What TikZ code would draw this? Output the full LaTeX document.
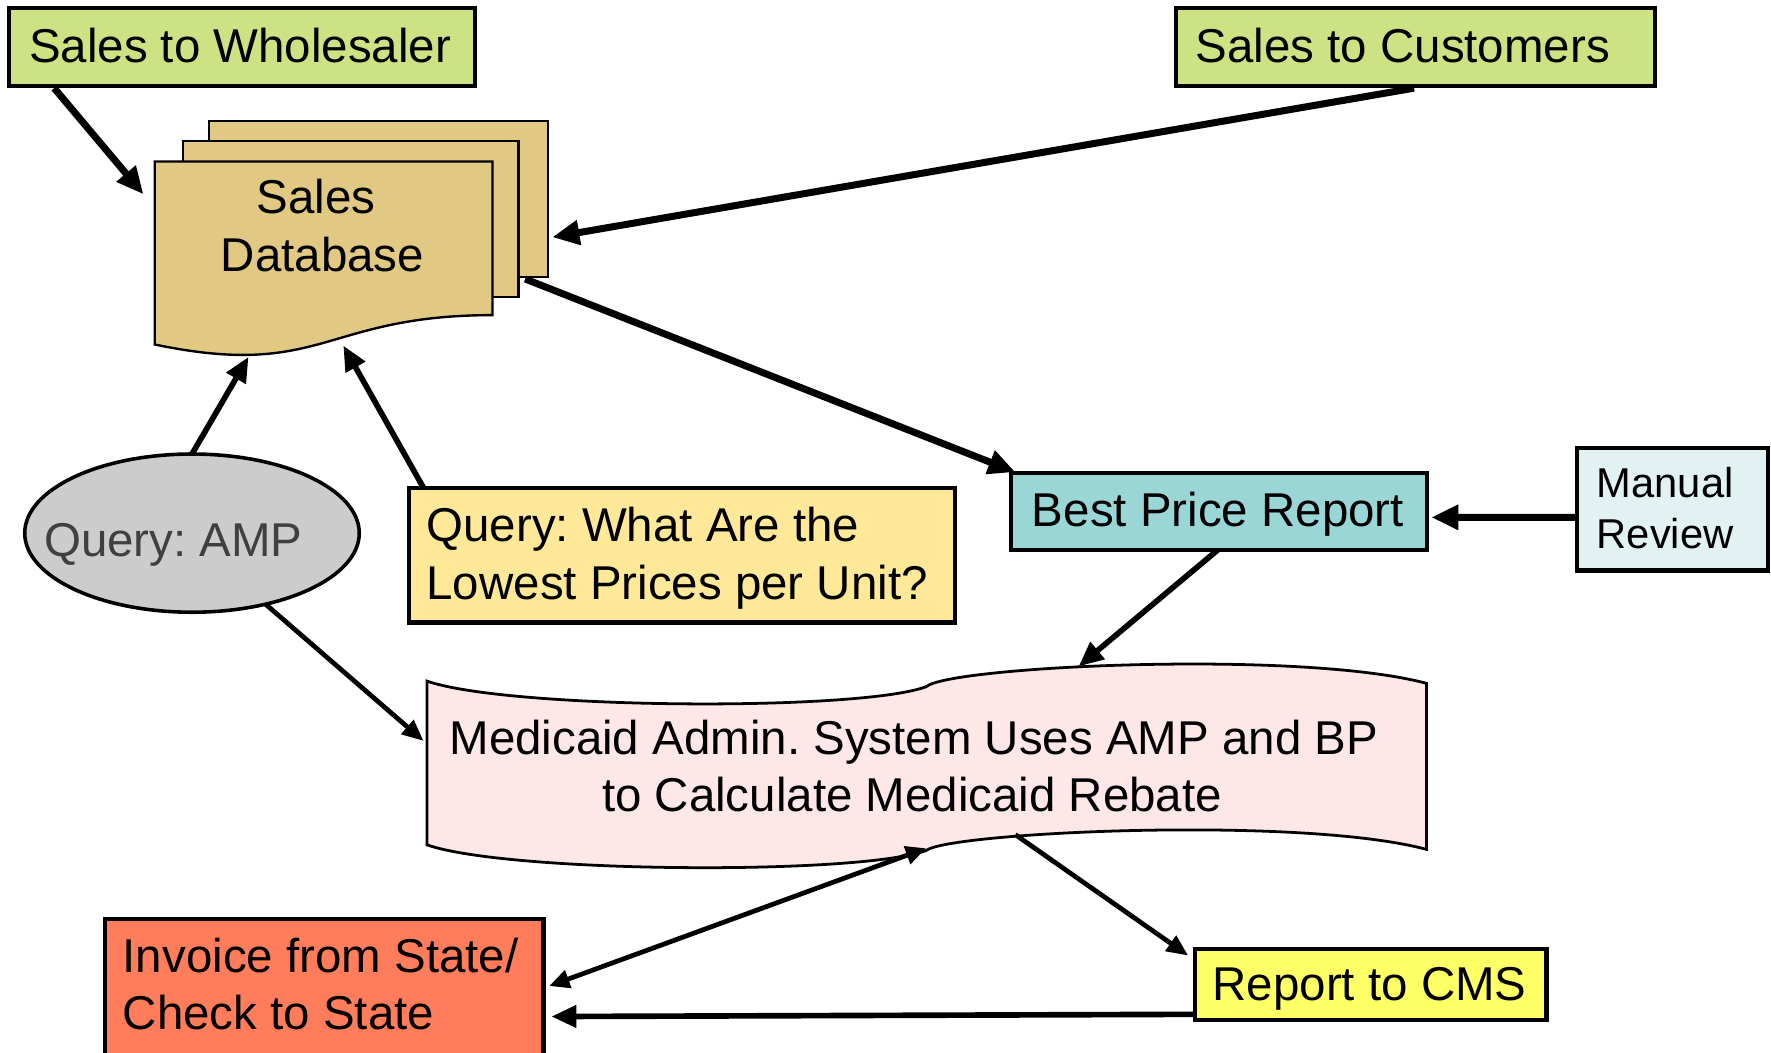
\documentclass[tikz,border=0pt]{standalone}
\usepackage{fontspec}
\setmainfont{Liberation Sans}
\usetikzlibrary{arrows.meta,calc,shapes.geometric}
\definecolor{cgreen}{RGB}{205,227,131}
\definecolor{ctan}{RGB}{225,200,131}
\definecolor{cgray}{RGB}{204,204,204}
\definecolor{cgtext}{RGB}{64,64,64}
\definecolor{cyellow}{RGB}{255,233,153}
\definecolor{cteal}{RGB}{155,214,214}
\definecolor{clight}{RGB}{226,242,242}
\definecolor{cpink}{RGB}{253,231,231}
\definecolor{corange}{RGB}{255,125,90}
\definecolor{ccms}{RGB}{255,255,102}
\frenchspacing
\begin{document}
\begin{tikzpicture}[x=0.01cm,y=-0.01cm,
  box/.style={draw=black,line width=1.05pt,rectangle,inner sep=0pt,outer sep=0pt,anchor=north west},
  lbl/.style={font=\fontsize{11.95}{14.8}\selectfont,inner sep=0pt,anchor=base west},
  lblc/.style={lbl,anchor=base},
  lbls/.style={font=\fontsize{10.5}{12.8}\selectfont,inner sep=0pt,anchor=base west},
  sheet/.style={draw=black,fill=ctan,line width=0.6pt},
  arT/.style={line width=0.062cm,-{Triangle[length=0.24cm,width=0.21cm]}},
  arM/.style={line width=0.05cm,-{Triangle[length=0.22cm,width=0.19cm]}},
  arS/.style={line width=0.042cm,-{Triangle[length=0.19cm,width=0.16cm]}},
  arD/.style={line width=0.042cm,{Triangle[length=0.18cm,width=0.16cm]}-{Triangle[length=0.18cm,width=0.16cm]}}]
\useasboundingbox (0,0) rectangle (1568,932);

% top boxes
\node[box,fill=cgreen,minimum width=4.12cm,minimum height=0.69cm] (sw) at (8,7) {};
\node[lbl] (swt) at (25,55) {Sales to Wholesaler};
\node[box,fill=cgreen,minimum width=4.24cm,minimum height=0.69cm] (sc) at (1041,7) {};
\node[lbl] (sct) at (1058,55) {Sales to Customers};

% sales database (multi-document)
\draw[sheet] (185,107) rectangle (485,245);
\draw[sheet] (162,125) rectangle (459,263);
\draw[sheet] (137,143) -- (436,143) -- (436,279) .. controls (286,279) and (286,336) .. (137,305) -- cycle;
\node[lblc] (dbt1) at (280,189) {Sales};
\node[lblc] (dbt2) at (285.5,240.5) {Database};
\coordinate (dbIn1) at (127,172);
\coordinate (dbIn2) at (489,210);
\coordinate (dbOut) at (465,247);
\coordinate (dbIn3) at (220,316);
\coordinate (dbIn4) at (304,306);

% query AMP
\node[ellipse,draw=black,fill=cgray,line width=0.9pt,minimum width=2.96cm,minimum height=1.40cm,inner sep=0pt,outer sep=0pt] (amp) at (170,472) {};
\node[lbl,text=cgtext] (ampt) at (38.4,492.8) {Query: AMP};

% query box
\node[box,fill=cyellow,minimum width=4.83cm,minimum height=1.19cm] (qy) at (362,432) {};
\node[lbl] (qyt1) at (377,479.6) {Query: What Are the};
\node[lbl] (qyt2) at (377,530.6) {Lowest Prices per Unit?};

% best price report
\node[box,fill=cteal,minimum width=3.68cm,minimum height=0.68cm] (bp) at (895,419) {};
\node[lbl] (bpt) at (913,466.3) {Best Price Report};

% manual review
\node[box,fill=clight,minimum width=1.69cm,minimum height=1.08cm] (mr) at (1396,397) {};
\node[lbls] (mrt1) at (1413,440.3) {Manual};
\node[lbls] (mrt2) at (1413,485.5) {Review};

% medicaid admin system (wave)
\draw[draw=black,fill=cpink,line width=0.7pt] (378,603) .. controls (450,628) and (760,630) .. (820,608)
  .. controls (840,590) and (1150,575) .. (1263,605) -- (1263,752)
  .. controls (1150,722) and (840,737) .. (820,753)
  .. controls (760,775) and (450,773) .. (378,748) -- cycle;
\node[lblc] (medt1) at (809,667.6) {Medicaid Admin. System Uses AMP and BP};
\node[lblc] (medt2) at (807.5,718.6) {to Calculate Medicaid Rebate};
\coordinate (medTop) at (955,590);
\coordinate (medLeft) at (375,656);
\coordinate (medBot1) at (820,751);
\coordinate (medBot2) at (899,739);

% invoice
\node[box,fill=corange,minimum width=3.88cm,minimum height=1.30cm] (inv) at (93,814) {};
\node[lbl] (invt1) at (108,861.2) {Invoice from State/};
\node[lbl] (invt2) at (108,911.9) {Check to State};

% report to CMS
\node[box,fill=ccms,minimum width=3.11cm,minimum height=0.63cm] (cms) at (1058,840) {};
\node[lbl] (cmst) at (1073,885.4) {Report to CMS};

% connectors
\draw[arT] ($(sw.south west)+(40,2)$) -- (dbIn1);
\draw[arT] ($(sc.south west)+(211,2)$) -- (dbIn2);
\draw[arT] (dbOut) -- ($(bp.north west)+(4,-1)$);
\draw[arM] (amp.north) -- (dbIn3);
\draw[arM] ($(qy.north west)+(13,0)$) -- (dbIn4);
\draw[arT] ($(mr.west)+(0,7)$) -- ($(bp.east)+(4,5)$);
\draw[arM] ($(bp.south west)+(183,0)$) -- (medTop);
\draw[arS] (amp.-44) -- (medLeft);
\draw[arD] (medBot1) -- ($(inv.north east)+(5,59)$);
\draw[arS] (medBot2) -- ($(cms.north west)+(-6,6)$);
\draw[arM] ($(cms.south west)+(0,-5)$) -- ($(inv.north east)+(7,86)$);
\end{tikzpicture}
\end{document}
